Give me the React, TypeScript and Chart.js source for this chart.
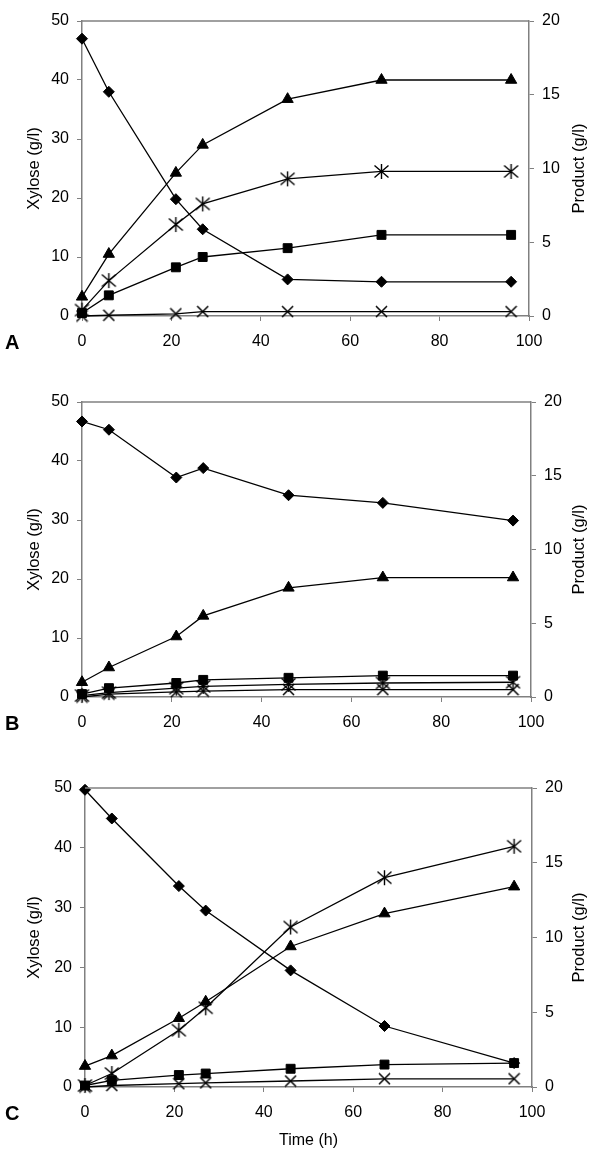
import React, { useEffect, useRef } from "react";
import { Chart, registerables } from "chart.js";

Chart.register(...registerables);

// ---------- data ----------
const timeH = [0, 6, 21, 27, 46, 67, 96];

// Panel A
const xyloseA = [47, 38, 19.8, 14.7, 6.2, 5.8, 5.8];
const triA = [1.3, 4.2, 9.7, 11.6, 14.7, 16.0, 16.0];
const starA = [0.4, 2.4, 6.2, 7.6, 9.3, 9.8, 9.8];
const squareA = [0.2, 1.4, 3.3, 4.0, 4.6, 5.5, 5.5];
const crossA = [0, 0.05, 0.15, 0.3, 0.3, 0.3, 0.3];

// Panel B
const xyloseB = [46.7, 45.3, 37.2, 38.8, 34.2, 32.9, 29.9];
const triB = [1.0, 2.0, 4.1, 5.5, 7.4, 8.1, 8.1];
const starB = [0.1, 0.3, 0.6, 0.72, 0.86, 0.95, 1.0];
const squareB = [0.2, 0.6, 0.95, 1.16, 1.3, 1.45, 1.45];
const crossB = [0, 0.2, 0.35, 0.4, 0.5, 0.5, 0.5];

// Panel C
const xyloseC = [49.7, 44.9, 33.6, 29.5, 19.5, 10.2, 4.0];
const triC = [1.4, 2.1, 4.6, 5.7, 9.4, 11.6, 13.4];
const starC = [0.1, 0.9, 3.8, 5.3, 10.7, 14.0, 16.1];
const squareC = [0.1, 0.45, 0.8, 0.9, 1.22, 1.5, 1.6];
const crossC = [0, 0.1, 0.22, 0.28, 0.4, 0.55, 0.55];

const panelLetters = ["A", "B", "C"];
const leftTitle = "Xylose (g/l)";
const rightTitle = "Product (g/l)";
const xTitle = "Time (h)";

// ---------- layout (positions only) ----------
const geometry = [
  { top: 0, height: 380, left: 82, right: 529, plotTop: 21, plotBottom: 316 },
  { top: 380, height: 380, left: 82, right: 531, plotTop: 22, plotBottom: 317 },
  { top: 760, height: 395, left: 85, right: 532, plotTop: 28, plotBottom: 327 },
];

const FONT = "'Liberation Sans', Arial, Helvetica, sans-serif";
const AXIS = "#808080";

function makeStar(): HTMLCanvasElement {
  const c = document.createElement("canvas");
  c.width = 17;
  c.height = 17;
  const g = c.getContext("2d")!;
  g.strokeStyle = "#000";
  g.lineWidth = 1.4;
  const m = 8.5;
  g.beginPath();
  g.moveTo(m - 7, m - 6);
  g.lineTo(m + 7, m + 6);
  g.moveTo(m + 7, m - 6);
  g.lineTo(m - 7, m + 6);
  g.moveTo(m, m - 7.5);
  g.lineTo(m, m + 7.5);
  g.stroke();
  return c;
}

function makeCross(): HTMLCanvasElement {
  const c = document.createElement("canvas");
  c.width = 13;
  c.height = 13;
  const g = c.getContext("2d")!;
  g.strokeStyle = "#000";
  g.lineWidth = 1.5;
  const m = 6.5;
  g.beginPath();
  g.moveTo(m - 5.5, m - 5.5);
  g.lineTo(m + 5.5, m + 5.5);
  g.moveTo(m + 5.5, m - 5.5);
  g.lineTo(m - 5.5, m + 5.5);
  g.stroke();
  return c;
}

const pts = (ys: number[]) => timeH.map((t, i) => ({ x: t, y: ys[i] }));

function buildDatasets(idx: number, star: HTMLCanvasElement, cross: HTMLCanvasElement) {
  const sets = [
    [xyloseA, triA, starA, squareA, crossA],
    [xyloseB, triB, starB, squareB, crossB],
    [xyloseC, triC, starC, squareC, crossC],
  ][idx];
  const base = {
    borderColor: "#000",
    borderWidth: 1.3,
    pointBackgroundColor: "#000",
    pointBorderColor: "#000",
    pointBorderWidth: 1,
    fill: false,
    tension: 0,
    clip: false as const,
  };
  return [
    { ...base, data: pts(sets[0]), yAxisID: "y", pointStyle: "rectRot", pointRadius: 5.5 },
    { ...base, data: pts(sets[1]), yAxisID: "y1", pointStyle: "triangle", pointRadius: 6.5 },
    { ...base, data: pts(sets[2]), yAxisID: "y1", pointStyle: star, pointRadius: 8 },
    { ...base, data: pts(sets[3]), yAxisID: "y1", pointStyle: "rect", pointRadius: 6.3 },
    { ...base, data: pts(sets[4]), yAxisID: "y1", pointStyle: cross, pointRadius: 6 },
  ];
}

function Panel({ idx }: { idx: number }) {
  const ref = useRef<HTMLCanvasElement | null>(null);
  const g = geometry[idx];
  useEffect(() => {
    if (!ref.current) return;
    const star = makeStar();
    const cross = makeCross();
    const tickFont = { family: FONT, size: 16 };
    const deco = {
      id: "deco",
      afterDraw(chart: any) {
        const { ctx, chartArea } = chart;
        const { left, right, top, bottom } = chartArea;
        ctx.save();
        ctx.strokeStyle = AXIS;
        ctx.lineWidth = 1.5;
        ctx.beginPath();
        ctx.moveTo(left, top);
        ctx.lineTo(right, top);
        ctx.stroke();
        ctx.fillStyle = "#000";
        ctx.font = `16.5px ${FONT}`;
        ctx.textAlign = "center";
        ctx.textBaseline = "middle";
        const midY = (top + bottom) / 2;
        ctx.save();
        ctx.translate(34, midY);
        ctx.rotate(-Math.PI / 2);
        ctx.fillText(leftTitle, 0, 0);
        ctx.restore();
        ctx.save();
        ctx.translate(579, midY);
        ctx.rotate(-Math.PI / 2);
        ctx.fillText(rightTitle, 0, 0);
        ctx.restore();
        ctx.font = `bold 20px ${FONT}`;
        ctx.textAlign = "left";
        ctx.fillText(panelLetters[idx], 5, bottom + 27);
        if (idx === 2) {
          ctx.font = `16px ${FONT}`;
          ctx.textAlign = "center";
          ctx.fillText(xTitle, (left + right) / 2, bottom + 54);
        }
        ctx.restore();
      },
    };
    const axisCommon = {
      grid: { drawOnChartArea: false, drawTicks: true, tickLength: 5, color: AXIS, lineWidth: 1 },
      border: { display: true, color: AXIS, width: 1.5 },
    };
    const chart = new Chart(ref.current, {
      type: "line",
      data: { datasets: buildDatasets(idx, star, cross) as any },
      options: {
        responsive: false,
        animation: false,
        devicePixelRatio: 1,
        events: [],
        layout: { padding: { top: g.plotTop, left: 0, right: 0, bottom: 0 } },
        plugins: { legend: { display: false }, tooltip: { enabled: false } },
        scales: {
          x: {
            type: "linear",
            min: 0,
            max: 100,
            ticks: { stepSize: 20, color: "#000", font: tickFont, padding: 11, maxRotation: 0 },
            ...axisCommon,
            afterFit: (s: any) => {
              s.height = g.height - g.plotBottom;
            },
          },
          y: {
            type: "linear",
            position: "left",
            min: 0,
            max: 50,
            ticks: { stepSize: 10, color: "#000", font: tickFont, padding: 8 },
            ...axisCommon,
            afterFit: (s: any) => {
              s.width = g.left;
            },
          },
          y1: {
            type: "linear",
            position: "right",
            min: 0,
            max: 20,
            ticks: { stepSize: 5, color: "#000", font: tickFont, padding: 8 },
            ...axisCommon,
            afterFit: (s: any) => {
              s.width = 600 - g.right;
            },
          },
        },
      } as any,
      plugins: [deco],
    });
    return () => chart.destroy();
  }, [idx]);
  return (
    <canvas
      ref={ref}
      width={600}
      height={g.height}
      style={{ position: "absolute", left: 0, top: g.top, width: 600, height: g.height }}
    />
  );
}

export default function App() {
  return (
    <div
      style={{
        position: "fixed",
        left: 0,
        top: 0,
        width: 600,
        height: 1155,
        background: "#fff",
        overflow: "hidden",
      }}
    >
      <Panel idx={0} />
      <Panel idx={1} />
      <Panel idx={2} />
    </div>
  );
}
